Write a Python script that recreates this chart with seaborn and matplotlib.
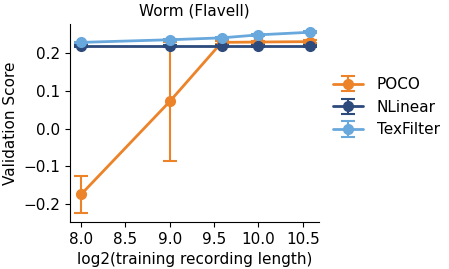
import numpy as np
import matplotlib
matplotlib.use("Agg")
import matplotlib.pyplot as plt
import seaborn as sns

# data
x = [8.0, 9.0, 9.585, 10.0, 10.585]
poco = [-0.175, 0.072, 0.229, 0.230, 0.231]
poco_err = [0.048, 0.157, 0.004, 0.004, 0.004]
nlinear = [0.220, 0.220, 0.220, 0.220, 0.220]
nlinear_err = [0.002, 0.002, 0.002, 0.002, 0.002]
texfilter = [0.229, 0.236, 0.241, 0.249, 0.256]
texfilter_err = [0.002, 0.002, 0.002, 0.002, 0.002]

series = [
    ("POCO", poco, poco_err, "#ec8329"),
    ("NLinear", nlinear, nlinear_err, "#2d4a7c"),
    ("TexFilter", texfilter, texfilter_err, "#69a8dc"),
]

sns.set_style("ticks", {"text.color": "black", "axes.labelcolor": "black",
                        "xtick.color": "black", "ytick.color": "black",
                        "axes.edgecolor": "black"})
plt.rcParams['font.family'] = ['DejaVu Sans']

fig, ax = plt.subplots(figsize=(4.49, 2.69), dpi=100)
for name, vals, err, col in series:
    ax.errorbar(x, vals, yerr=err, label=name, color=col, marker="o",
                markersize=7, linewidth=2, capsize=5, elinewidth=1.5,
                capthick=1.5)

ax.set_title("Worm (Flavell)", fontsize=11)
ax.set_xlabel("log2(training recording length)", fontsize=11)
ax.set_ylabel("Validation Score", fontsize=11)
ax.set_xticks([8.0, 8.5, 9.0, 9.5, 10.0, 10.5])
ax.set_yticks([-0.2, -0.1, 0.0, 0.1, 0.2])
ax.set_xlim(7.876, 10.68)
ax.set_ylim(-0.248, 0.278)
ax.tick_params(labelsize=11)
sns.despine(ax=ax)
ax.legend(loc="center left", bbox_to_anchor=(1.0, 0.58), frameon=False,
          fontsize=11, handletextpad=0.9)

fig.subplots_adjust(left=0.156, right=0.710, top=0.911, bottom=0.175)
fig.savefig("out.png", dpi=100)
